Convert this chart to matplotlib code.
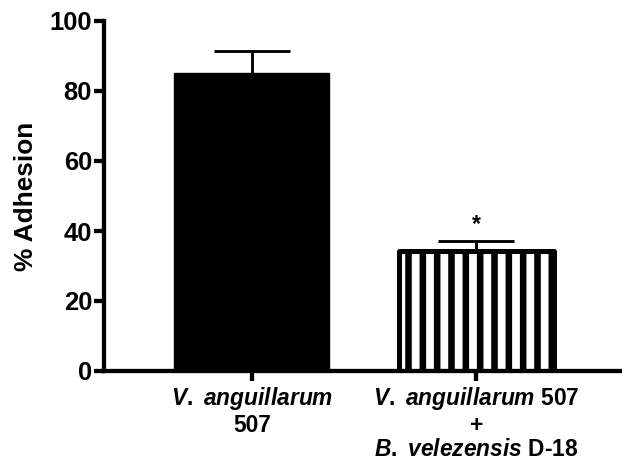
import matplotlib
matplotlib.use("Agg")
import matplotlib.pyplot as plt

categories = [r"$\mathit{V.\ anguillarum}$" + "\n507",
              r"$\mathit{V.\ anguillarum}$ 507" + "\n+\n" + r"$\mathit{B.\ velezensis}$ D-18"]
means = [85.0, 34.3]
errors = [6.5, 2.8]
yticks = [0, 20, 40, 60, 80, 100]
significance = ["", "*"]

DPI = 86
plt.rcParams['font.family'] = ['Liberation Sans', 'DejaVu Sans']
plt.rcParams['font.weight'] = 'bold'
plt.rcParams['mathtext.fontset'] = 'custom'
plt.rcParams['mathtext.rm'] = 'Liberation Sans:bold'
plt.rcParams['mathtext.it'] = 'Liberation Sans:bold:italic'
plt.rcParams['mathtext.bf'] = 'Liberation Sans:bold'
plt.rcParams['hatch.linewidth'] = 5.5
plt.rcParams['hatch.color'] = 'black'

fig = plt.figure(figsize=(622 / DPI, 463 / DPI), dpi=DPI)
ax = fig.add_axes([104 / 622, 1 - 371 / 463, 1 - 104 / 622, (371 - 21) / 463])

x = list(range(len(categories)))
width = 0.69
ax.bar(x[0], means[0], width=width, color='black', edgecolor='black', linewidth=2, joinstyle='round')
ax.bar(x[1], means[1], width=width, color='white', edgecolor='black', linewidth=4.2,
       hatch='|', joinstyle='round')
ax.errorbar(x, means, yerr=[[0, 0], errors], fmt='none', ecolor='black',
            elinewidth=2.4, capsize=32, capthick=2.4, zorder=1)
for xi, m, e, s in zip(x, means, errors, significance):
    if s:
        ax.text(xi, m + e + 1.6, s, ha='center', va='bottom', fontsize=19, fontweight='bold')

ax.set_ylim(0, 100)
ax.set_xlim(-0.66, 1.65)
ax.set_yticks(yticks)
ax.set_xticks(x)
ax.set_xticklabels(categories, fontsize=19, fontweight='bold', linespacing=1.08)
ax.tick_params(axis='y', labelsize=21.5, width=3.6, length=8, direction='out', pad=2)
ax.tick_params(axis='x', width=3.6, length=8, direction='out', pad=4)
for lab in ax.get_yticklabels():
    lab.set_fontweight('bold')
ax.set_ylabel('% Adhesion', fontsize=22, fontweight='bold', labelpad=10)
for side in ['top', 'right']:
    ax.spines[side].set_visible(False)
for side in ['left', 'bottom']:
    ax.spines[side].set_linewidth(3.6)

fig.savefig('out.png', dpi=DPI)
